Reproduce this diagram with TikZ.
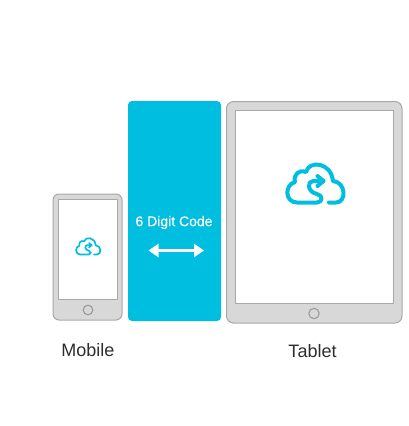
\documentclass[tikz,border=0pt]{standalone}
\usepackage{fontspec}
\setmainfont{Liberation Sans}
\newfontface\codefont{Liberation Sans}[FakeBold=0.4]
\usetikzlibrary{arrows.meta}
\definecolor{code}{RGB}{0,190,224}
\definecolor{shell}{RGB}{216,216,216}
\definecolor{rim}{RGB}{168,168,168}
\definecolor{ink}{RGB}{45,45,45}

\tikzset{
  device/.style={draw=rim,fill=shell,line width=1pt,rounded corners=#1},
  screen/.style={draw=rim,fill=white,line width=1pt},
  homekey/.style={draw=rim!90!black,fill=shell,line width=1pt},
  caption/.style={text=ink,font=\fontsize{18}{20}\selectfont},
  pics/cloudicon/.style={code={
    \draw[code,line cap=round,line join=round]
      (14,18.5) -- (21,18.5) .. controls (32,18.5) and (31,-2) .. (18,-3)
      .. controls (16,-22) and (-6,-24) .. (-9,-12)
      .. controls (-16,-15) and (-22,-9) .. (-20,-2)
      .. controls (-31,1) and (-30,18.5) .. (-18,18.5)
      -- (2,18.5) .. controls (8,18.5) and (8,11) .. (2,10)
      .. controls (-8,8) and (-8,-3) .. (-2,-3) -- (8,-3);
    \draw[code,line cap=round,line join=round] (2.5,-8) -- (8.5,-3) -- (2.5,2);
  }},
}

\begin{document}
\begin{tikzpicture}[x=1pt,y=-1pt]
  \useasboundingbox (0,0) rectangle (409,426);

  % phone
  \draw[device=6pt] (53,194) rectangle (122,320);
  \draw[screen] (58,199) rectangle (117,299);
  \draw[homekey] (88,310) circle (4.8);
  \pic[scale=0.43,line width=1.7pt] at (88,246.5) {cloudicon};

  % code panel
  \fill[code,rounded corners=4pt] (128,101) rectangle (221,321);
  \node[text=white,font=\fontsize{14}{16}\codefont] (codetext) at (174,222.5) {6 Digit Code};
  \coordinate (arrowleft) at (148.5,250.5);
  \coordinate (arrowright) at (204,250.5);
  \draw[{Triangle[length=10pt,width=13pt]}-{Triangle[length=10pt,width=13pt]},white,line width=3pt] (arrowleft) -- (arrowright);

  % tablet
  \draw[device=7pt] (226.5,101.5) rectangle (402,323);
  \draw[screen] (235.5,110.5) rectangle (393,303);
  \draw[homekey] (314,313.5) circle (5.2);
  \pic[line width=4pt] at (315,184) {cloudicon};

  \node[caption] (mobile) at (88,350) {Mobile};
  \node[caption] (tablet) at (312.5,351.5) {Tablet};
\end{tikzpicture}
\end{document}
